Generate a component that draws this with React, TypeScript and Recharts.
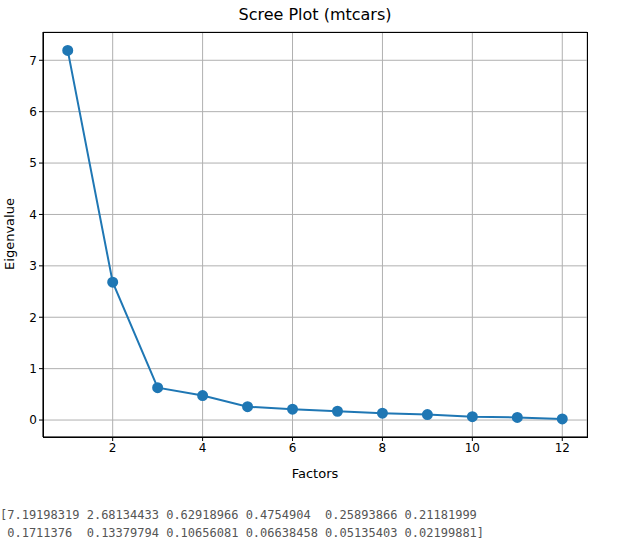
import { LineChart, Line, XAxis, YAxis, CartesianGrid } from 'recharts';

const factors = [1, 2, 3, 4, 5, 6, 7, 8, 9, 10, 11, 12];
const eigenvalues = [7.19198319, 2.68134433, 0.62918966, 0.4754904, 0.25893866, 0.21181999, 0.1711376, 0.13379794, 0.10656081, 0.06638458, 0.05135403, 0.02199881];
const xTicks = [2, 4, 6, 8, 10, 12];
const yTicks = [0, 1, 2, 3, 4, 5, 6, 7];

const data = factors.map((f, i) => ({ f, v: eigenvalues[i] }));
const font = 'DejaVu Sans, sans-serif';

export default function App() {
  return (
    <div style={{ position: 'absolute', left: 0, top: 0, width: 627, height: 544, background: '#fff', fontFamily: font }}>
      <div style={{ position: 'absolute', top: 5, left: 43, width: 544, textAlign: 'center', fontSize: 16 }}>Scree Plot (mtcars)</div>
      <LineChart width={627} height={500} data={data} margin={{ top: 32, left: 13, right: 40, bottom: 43 }}>
        <CartesianGrid stroke="#b0b0b0" strokeWidth={1} />
        <XAxis dataKey="f" type="number" domain={[0.45, 12.55]} ticks={xTicks} height={20}
          stroke="#000" tickSize={4} tick={{ fill: '#000', fontSize: 12, fontFamily: font }}
          allowDataOverflow />
        <YAxis type="number" domain={[-0.33, 7.55]} ticks={yTicks} width={30}
          stroke="#000" tickSize={4} tick={{ fill: '#000', fontSize: 12, fontFamily: font }}
          allowDataOverflow />
        <Line dataKey="v" stroke="#1f77b4" strokeWidth={2} isAnimationActive={false}
          dot={{ r: 4.5, fill: '#1f77b4', stroke: '#1f77b4' }} />
      </LineChart>
      <div style={{ position: 'absolute', left: 43, top: 32, width: 543, height: 404, border: '1px solid #000', pointerEvents: 'none' }} />
      <div style={{ position: 'absolute', top: 466, left: 43, width: 544, textAlign: 'center', fontSize: 13 }}>Factors</div>
      <div style={{ position: 'absolute', left: 9, top: 234, transform: 'translate(-50%,-50%) rotate(-90deg)', fontSize: 13, whiteSpace: 'nowrap' }}>Eigenvalue</div>
      <pre style={{ position: 'absolute', left: 0, top: 506, margin: 0, fontFamily: 'DejaVu Sans Mono, monospace', fontSize: 12, lineHeight: '18px', color: '#555' }}>
{`[7.19198319 2.68134433 0.62918966 0.4754904  0.25893866 0.21181999
 0.1711376  0.13379794 0.10656081 0.06638458 0.05135403 0.02199881]`}
      </pre>
    </div>
  );
}
